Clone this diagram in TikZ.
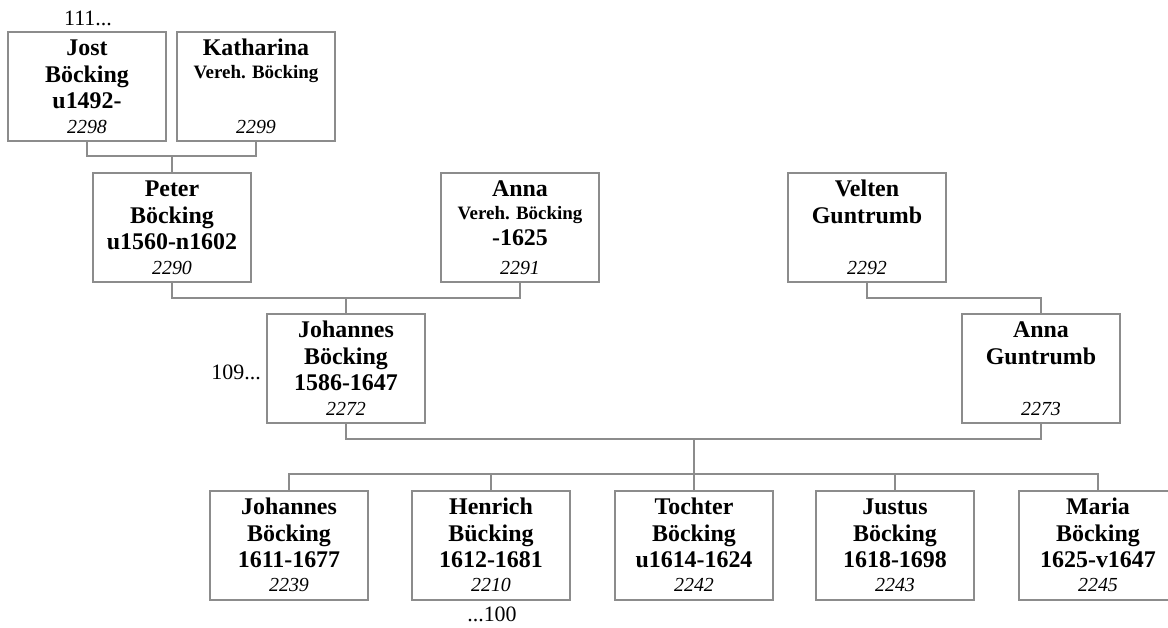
\documentclass[tikz,border=0pt]{standalone}
\usepackage{fontspec}
\setmainfont{Liberation Serif}
\definecolor{ln}{RGB}{140,140,140}
\begin{document}
\begin{tikzpicture}[x=1bp,y=-1bp,
  pbox/.style={draw=ln, line width=1.1bp, minimum width=158bp, minimum height=109bp, inner sep=0pt},
  nm/.style={font=\fontsize{24}{26.5}\selectfont\bfseries, align=center, anchor=north, inner sep=0pt},
  num/.style={font=\fontsize{20}{22}\selectfont\itshape, anchor=base, inner sep=0pt},
  lbl/.style={font=\fontsize{22}{24}\selectfont, inner sep=0pt},
  conn/.style={draw=ln, line width=1.1bp}]
\useasboundingbox[fill=white] (0,0) rectangle (1168,628);
\newcommand{\sm}[1]{{\fontsize{19}{20}\selectfont #1}}
\newcommand{\st}{\rule{0pt}{17bp}}
% boxes
\node[pbox] (jost) at (87,86.5) {};
\node[pbox] (kath) at (256,86.5) {};
\node[pbox] (peter) at (172,227.5) {};
\node[pbox] (annav) at (520,227.5) {};
\node[pbox] (velten) at (867,227.5) {};
\node[pbox] (joh) at (346,368.5) {};
\node[pbox] (annag) at (1041,368.5) {};
\node[pbox] (c1) at (289,545.5) {};
\node[pbox] (c2) at (491,545.5) {};
\node[pbox] (c3) at (694,545.5) {};
\node[pbox] (c4) at (895,545.5) {};
\node[pbox] (c5) at (1098,545.5) {};
% names
\node[nm] (jostN) at ([yshift=-7bp]jost.north) {\st Jost\\Böcking\\u1492-};
\node[nm] (kathN) at ([yshift=-7bp]kath.north) {\st Katharina\\[-4bp]\sm{Vereh. Böcking}};
\node[nm] (peterN) at ([yshift=-7bp]peter.north) {\st Peter\\Böcking\\u1560-n1602};
\node[nm] (annavN) at ([yshift=-7bp]annav.north) {\st Anna\\[-4bp]\sm{Vereh. Böcking}\\-1625};
\node[nm] (veltenN) at ([yshift=-7bp]velten.north) {\st Velten\\Guntrumb};
\node[nm] (johN) at ([yshift=-7bp]joh.north) {\st Johannes\\Böcking\\1586-1647};
\node[nm] (annagN) at ([yshift=-7bp]annag.north) {\st Anna\\Guntrumb};
\node[nm] (c1N) at ([yshift=-7bp]c1.north) {\st Johannes\\Böcking\\1611-1677};
\node[nm] (c2N) at ([yshift=-7bp]c2.north) {\st Henrich\\Bücking\\1612-1681};
\node[nm] (c3N) at ([yshift=-7bp]c3.north) {\st Tochter\\Böcking\\u1614-1624};
\node[nm] (c4N) at ([yshift=-7bp]c4.north) {\st Justus\\Böcking\\1618-1698};
\node[nm] (c5N) at ([yshift=-7bp]c5.north) {\st Maria\\Böcking\\1625-v1647};
% numbers
\node[num] (jostY) at ([yshift=8bp]jost.south) {2298};
\node[num] (kathY) at ([yshift=8bp]kath.south) {2299};
\node[num] (peterY) at ([yshift=8bp]peter.south) {2290};
\node[num] (annavY) at ([yshift=8bp]annav.south) {2291};
\node[num] (veltenY) at ([yshift=8bp]velten.south) {2292};
\node[num] (johY) at ([yshift=8bp]joh.south) {2272};
\node[num] (annagY) at ([yshift=8bp]annag.south) {2273};
\node[num] (c1Y) at ([yshift=9bp]c1.south) {2239};
\node[num] (c2Y) at ([yshift=9bp]c2.south) {2210};
\node[num] (c3Y) at ([yshift=9bp]c3.south) {2242};
\node[num] (c4Y) at ([yshift=9bp]c4.south) {2243};
\node[num] (c5Y) at ([yshift=9bp]c5.south) {2245};
% side labels
\node[lbl, anchor=base] (l111) at (88,26) {111...};
\node[lbl, anchor=base east] (l109) at (261,379) {109...};
\node[lbl, anchor=base] (l100) at (492,621) {...100};
% connectors
\coordinate (m1) at (172,156);
\coordinate (m2) at (346,298);
\coordinate (m3) at (694,439);
\coordinate (sib) at (694,474);
\draw[conn] (jost.south) |- (m1) -| (kath.south);
\draw[conn] (m1) -- (m1 |- peter.north);
\draw[conn] (peter.south) |- (m2) -| (annav.south);
\draw[conn] (m2) -- (m2 |- joh.north);
\draw[conn] (velten.south) |- (m2 -| annag.north) -- (annag.north);
\draw[conn] (joh.south) |- (m3) -| (annag.south);
\draw[conn] (m3) -- (sib);
\draw[conn] (sib) -| (c1.north);
\draw[conn] (sib) -| (c2.north);
\draw[conn] (sib) -| (c3.north);
\draw[conn] (sib) -| (c4.north);
\draw[conn] (sib) -| (c5.north);
\end{tikzpicture}
\end{document}
